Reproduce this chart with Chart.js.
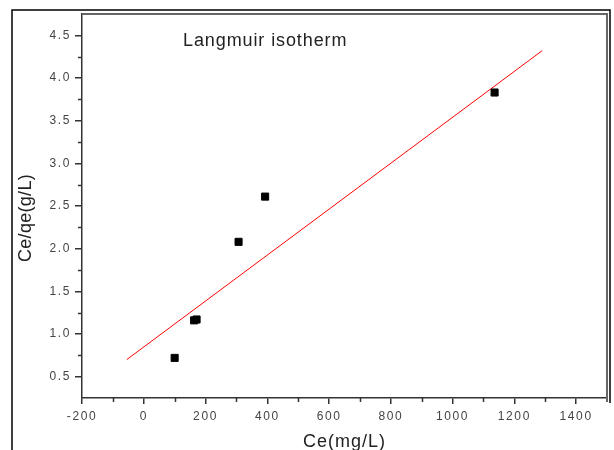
<!DOCTYPE html>
<html>
<head>
<meta charset="utf-8">
<script src="https://cdn.jsdelivr.net/npm/chart.js@4"></script>
<style>
  body { margin: 0; background: #fff; }
  canvas { display: block; }
</style>
</head>
<body>
<canvas id="grafico" width="614" height="450"></canvas>
<script>
// Datos
const ceValores = [100, 163, 171, 307, 393, 1136];
const ceQeValores = [0.72, 1.16, 1.17, 2.08, 2.61, 3.83];
const ajusteX = [-55, 1290];
const ajusteY = [0.70, 4.32];
const ticksX = [-200, 0, 200, 400, 600, 800, 1000, 1200, 1400];
const ticksXMenores = [-100, 100, 300, 500, 700, 900, 1100, 1300];
const ticksY = [0.5, 1.0, 1.5, 2.0, 2.5, 3.0, 3.5, 4.0, 4.5];
const ticksYMenores = [0.75, 1.25, 1.75, 2.25, 2.75, 3.25, 3.75, 4.25];

const fuenteTicks = { family: 'Arial, "Liberation Sans", sans-serif', size: 12 };

// Marco, ticks menores y textos
const decoracion = {
    id: 'decoracion',
    beforeDraw(chart) {
        // las etiquetas de los ticks van espaciadas
        chart.ctx.letterSpacing = '1.6px';
    },
    beforeDatasetsDraw(chart) {
        chart.ctx.letterSpacing = '0px';
    },
    afterDraw(chart) {
        const ctx = chart.ctx;
        const a = chart.chartArea;
        const sx = chart.scales.x, sy = chart.scales.y;
        ctx.save();
        // marco exterior
        ctx.strokeStyle = '#000';
        ctx.lineWidth = 1.5;
        ctx.beginPath();
        ctx.moveTo(12, 450);
        ctx.lineTo(12, 10);
        ctx.lineTo(610, 10);
        ctx.lineTo(610, 403);
        ctx.stroke();
        // borde superior y derecho del gráfico
        ctx.strokeStyle = '#666';
        ctx.lineWidth = 2;
        ctx.beginPath();
        ctx.moveTo(a.left, a.top);
        ctx.lineTo(a.right, a.top);
        ctx.lineTo(a.right, a.bottom + 4);
        ctx.stroke();
        // ticks menores
        ctx.strokeStyle = '#333';
        ctx.lineWidth = 1.5;
        ctx.beginPath();
        ticksXMenores.forEach(v => {
            const px = Math.round(sx.getPixelForValue(v)) + 0.5;
            ctx.moveTo(px, a.bottom);
            ctx.lineTo(px, a.bottom + 4);
        });
        ticksYMenores.forEach(v => {
            const py = Math.round(sy.getPixelForValue(v)) + 0.5;
            ctx.moveTo(a.left, py);
            ctx.lineTo(a.left - 4, py);
        });
        ctx.stroke();
        // textos
        ctx.fillStyle = '#222';
        ctx.font = '18px Arial, "Liberation Sans", sans-serif';
        ctx.textBaseline = 'middle';
        ctx.textAlign = 'left';
        ctx.letterSpacing = '0.9px';
        ctx.fillText('Langmuir isotherm', 183, 41);
        ctx.textAlign = 'center';
        ctx.letterSpacing = '1px';
        ctx.fillText('Ce(mg/L)', (a.left + a.right) / 2, 442);
        ctx.translate(26, 218);
        ctx.rotate(-Math.PI / 2);
        ctx.letterSpacing = '0.3px';
        ctx.fillText('Ce/qe(g/L)', 0, 0);
        ctx.restore();
        ctx.letterSpacing = '0px';
    }
};

new Chart(document.getElementById('grafico'), {
    type: 'scatter',
    data: {
        datasets: [
            {
                label: 'Datos',
                data: ceValores.map((x, i) => ({ x: x, y: ceQeValores[i] })),
                pointStyle: 'rect',
                pointRadius: 5,
                backgroundColor: '#000',
                borderColor: '#000',
                borderWidth: 1
            },
            {
                label: 'Ajuste',
                data: ajusteX.map((x, i) => ({ x: x, y: ajusteY[i] })),
                showLine: true,
                pointRadius: 0,
                borderColor: '#ff0000',
                borderWidth: 1
            }
        ]
    },
    options: {
        responsive: false,
        animation: false,
        devicePixelRatio: 1,
        layout: { padding: { left: 0, top: 14, right: 7, bottom: 0 } },
        plugins: {
            legend: { display: false },
            tooltip: { enabled: false }
        },
        scales: {
            x: {
                type: 'linear',
                min: -200,
                max: 1500,
                afterFit: s => { s.height = 52; },
                afterBuildTicks: s => { s.ticks = ticksX.map(v => ({ value: v })); },
                border: { display: true, color: '#333', width: 1.5 },
                grid: { drawOnChartArea: false, drawTicks: true, tickLength: 6, color: '#333', lineWidth: 1.5 },
                ticks: { color: '#444', font: fuenteTicks, padding: 5, maxRotation: 0, autoSkip: false, callback: v => String(v) }
            },
            y: {
                type: 'linear',
                min: 0.25,
                max: 4.75,
                afterFit: s => { s.width = 82; },
                afterBuildTicks: s => { s.ticks = ticksY.map(v => ({ value: v })); },
                border: { display: true, color: '#333', width: 1.5 },
                grid: { drawOnChartArea: false, drawTicks: true, tickLength: 7, color: '#333', lineWidth: 1.5 },
                ticks: { color: '#444', font: fuenteTicks, padding: 4, callback: v => v.toFixed(1) }
            }
        }
    },
    plugins: [decoracion]
});
</script>
</body>
</html>
